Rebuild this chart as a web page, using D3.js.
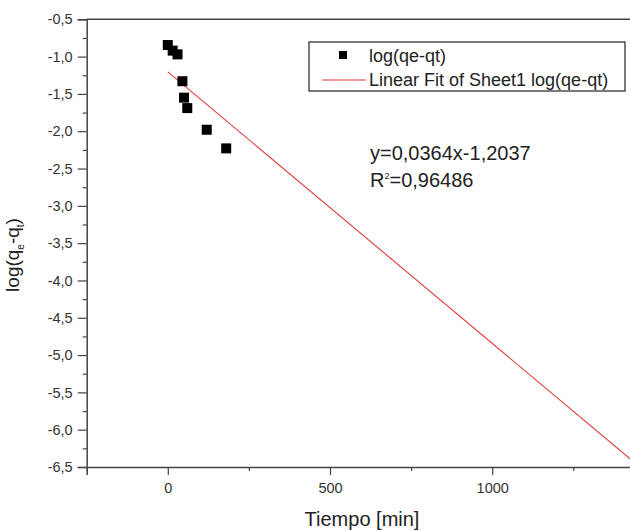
<!DOCTYPE html>
<html>
<head>
<meta charset="utf-8">
<script src="https://cdn.jsdelivr.net/npm/d3@7"></script>
<style>
body { margin: 0; background: #fff; }
text { font-family: "Liberation Sans", Arial, sans-serif; }
</style>
</head>
<body>
<div class="canvas"></div>
<script>
// data
var tiempo = [0, 15, 30, 45, 50, 60, 120, 180];
var logQ   = [-0.845, -0.92, -0.97, -1.33, -1.55, -1.69, -1.98, -2.23];
// linear fit (as drawn)
var fit_slope = -0.00364;
var fit_int   = -1.2037;
var fit_x     = [0, 1500];
var y_ticks   = [-0.5, -1.0, -1.5, -2.0, -2.5, -3.0, -3.5, -4.0, -4.5, -5.0, -5.5, -6.0, -6.5];
var y_minor   = [-0.75, -1.25, -1.75, -2.25, -2.75, -3.25, -3.75, -4.25, -4.75, -5.25, -5.75, -6.25];
var x_ticks   = [0, 500, 1000];
var x_minor   = [-250, 250, 750, 1250];
var legend_labels = ["log(qe-qt)", "Linear Fit of Sheet1 log(qe-qt)"];
var eq_text = "y=0,0364x-1,2037";
var r2_text = "=0,96486";

var fig_width = 630, fig_height = 531;
var m_left = 86.7, m_top = 19.3, m_bottom = 467;

var svg = d3.select("body div.canvas").append("svg")
	.attr("width", fig_width)
	.attr("height", fig_height);

var x = d3.scaleLinear().domain([-250, 1500]).range([m_left, m_left + 1750 * 0.3244]);
var y = d3.scaleLinear().domain([-0.5, -6.5]).range([m_top, m_bottom]);

// origin style labels: comma decimal, plain hyphen
var comma = function(d) { return d.toFixed(1).replace(".", ","); };
var axis_col = "#444";

// frame (top line, right side is cut off by the picture)
svg.append("line")
	.attr("x1", m_left).attr("x2", x(1500))
	.attr("y1", m_top).attr("y2", m_top)
	.attr("stroke", axis_col).attr("stroke-width", 1.5);

// y axis
svg.append("g").attr("transform", "translate(" + m_left + ",0)")
	.call(d3.axisLeft(y).tickValues(y_ticks).tickSize(9).tickPadding(5).tickFormat(comma));
svg.append("g").attr("transform", "translate(" + m_left + ",0)")
	.call(d3.axisLeft(y).tickValues(y_minor).tickSize(4).tickFormat(""))
	.select(".domain").remove();

// x axis
svg.append("g").attr("transform", "translate(0," + m_bottom + ")")
	.call(d3.axisBottom(x).tickValues(x_ticks).tickSize(8).tickPadding(8).tickFormat(d3.format("d")));
svg.append("g").attr("transform", "translate(0," + m_bottom + ")")
	.call(d3.axisBottom(x).tickValues(x_minor).tickSize(4).tickFormat(""))
	.select(".domain").remove();

svg.selectAll(".domain").attr("stroke", axis_col).attr("stroke-width", 1.5);
svg.selectAll(".tick line").attr("stroke", axis_col).attr("stroke-width", 1.2);
svg.selectAll(".tick text")
	.style("font-family", "Liberation Sans, Arial, sans-serif")
	.style("font-size", "14.5px")
	.attr("fill", "#333");

// axis titles
svg.append("text")
	.attr("x", 362).attr("y", 526)
	.attr("text-anchor", "middle")
	.style("font-size", "20px").attr("fill", "#222")
	.text("Tiempo [min]");

var yt = svg.append("text")
	.attr("transform", "translate(19,255) rotate(-90)")
	.attr("text-anchor", "middle")
	.style("font-size", "19px").attr("fill", "#222");
yt.append("tspan").text("log(q");
yt.append("tspan").attr("dy", 5).style("font-size", "10px").text("e");
yt.append("tspan").attr("dy", -5).text("-q");
yt.append("tspan").attr("dy", 5).style("font-size", "10px").text("t");
yt.append("tspan").attr("dy", -5).text(")");

// fit line
svg.append("line")
	.attr("x1", x(fit_x[0])).attr("y1", y(fit_int + fit_slope * fit_x[0]))
	.attr("x2", x(fit_x[1])).attr("y2", y(fit_int + fit_slope * fit_x[1]))
	.attr("stroke", "#e03a3a").attr("stroke-width", 1.1);

// points
var sq = 10;
tiempo.forEach(function(t, i) {
	svg.append("rect")
		.attr("x", x(t) - sq / 2).attr("y", y(logQ[i]) - sq / 2)
		.attr("width", sq).attr("height", sq)
		.attr("fill", "#000");
});

// legend
svg.append("rect")
	.attr("x", 309).attr("y", 42).attr("width", 316).attr("height", 49)
	.attr("fill", "#fff").attr("stroke", "#333").attr("stroke-width", 1.3);
svg.append("rect").attr("x", 339).attr("y", 51).attr("width", 8).attr("height", 8).attr("fill", "#000");
svg.append("line").attr("x1", 322).attr("x2", 366).attr("y1", 80).attr("y2", 80)
	.attr("stroke", "#e03a3a").attr("stroke-width", 1.1);
svg.append("text").attr("x", 369).attr("y", 62).style("font-size", "18px").attr("fill", "#222").text(legend_labels[0]);
svg.append("text").attr("x", 369).attr("y", 86).style("font-size", "18px").attr("fill", "#222").text(legend_labels[1]);

// equation
svg.append("text").attr("x", 370).attr("y", 160).style("font-size", "20px").attr("fill", "#222").text(eq_text);
var r2 = svg.append("text").attr("x", 370).attr("y", 187).style("font-size", "20px").attr("fill", "#222");
r2.append("tspan").text("R");
r2.append("tspan").attr("dy", -8).style("font-size", "9px").text("2");
r2.append("tspan").attr("dy", 8).text(r2_text);
</script>
</body>
</html>
